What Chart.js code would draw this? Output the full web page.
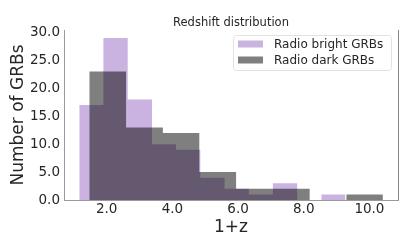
<!DOCTYPE html>
<html>
<head>
<meta charset="utf-8">
<script src="https://cdn.jsdelivr.net/npm/chart.js@4/dist/chart.umd.min.js"></script>
<style>
    html, body { margin: 0; padding: 0; background: #fff; }
    #wrap { width: 407px; height: 251px; }
</style>
</head>
<body>
<div id="wrap"><canvas id="histChart"></canvas></div>
<script>
// Histogram bins (1+z) and counts
const brightEdges = [1.165, 1.90, 2.64, 3.38, 4.11, 4.85, 5.59, 6.33, 7.06, 7.80, 8.54, 9.27];
const brightCounts = [17, 29, 18, 10, 9, 4, 2, 1, 3, 0, 1];
const darkEdges = [1.47, 2.59, 3.71, 4.82, 5.94, 7.06, 8.18, 9.30, 10.41];
const darkCounts = [23, 13, 12, 5, 2, 2, 0, 1];

const xTicks = [2, 4, 6, 8, 10];
const yTicks = [0, 5, 10, 15, 20, 25, 30];
const seriesLabels = ['Radio bright GRBs', 'Radio dark GRBs'];
const chartTitle = 'Redshift distribution';

const brightColor = 'rgba(110, 50, 170, 0.37)';
const darkColor = 'rgba(0, 0, 0, 0.5)';
const FONT = "'DejaVu Sans', sans-serif";

// Step outline of a histogram: first left edge, then each right edge with its bin's count
function stepPoints(edges, counts) {
    const pts = [{ x: edges[0], y: counts[0] }];
    counts.forEach((c, i) => pts.push({ x: edges[i + 1], y: c }));
    return pts;
}

// Title over the axes, right spine and legend box drawn on the canvas
const extrasPlugin = {
    id: 'extras',
    afterDraw(chart) {
        const ctx = chart.ctx;
        const area = chart.chartArea;
        ctx.save();

        ctx.font = '11.5px ' + FONT;
        ctx.fillStyle = '#262626';
        ctx.textAlign = 'center';
        ctx.textBaseline = 'middle';
        ctx.fillText(chartTitle, (area.left + area.right) / 2, 23.5);

        ctx.strokeStyle = '#8a8a8a';
        ctx.lineWidth = 1;
        ctx.beginPath();
        ctx.moveTo(Math.round(area.right) + 0.5, area.top);
        ctx.lineTo(Math.round(area.right) + 0.5, area.bottom);
        ctx.stroke();

        // legend
        const bx = 233.5, by = 35.5, bw = 158, bh = 35;
        ctx.fillStyle = 'rgba(255,255,255,0.8)';
        ctx.strokeStyle = '#e2e2e2';
        ctx.beginPath();
        ctx.roundRect(bx, by, bw, bh, 3);
        ctx.fill();
        ctx.stroke();

        const colors = [brightColor, darkColor];
        ctx.font = '12px ' + FONT;
        ctx.textAlign = 'left';
        seriesLabels.forEach((lab, i) => {
            const cy = 44 + i * 16;
            ctx.fillStyle = colors[i];
            ctx.fillRect(238, cy - 3.5, 25, 7);
            ctx.fillStyle = '#262626';
            ctx.fillText(lab, 274, cy + 0.5);
        });
        ctx.restore();
    }
};

new Chart(document.getElementById('histChart'), {
    type: 'line',
    data: {
        datasets: [
            {
                label: seriesLabels[0],
                data: stepPoints(brightEdges, brightCounts),
                stepped: 'after',
                fill: 'origin',
                backgroundColor: brightColor,
                borderWidth: 0,
                pointRadius: 0,
                order: 2
            },
            {
                label: seriesLabels[1],
                data: stepPoints(darkEdges, darkCounts),
                stepped: 'after',
                fill: 'origin',
                backgroundColor: darkColor,
                borderWidth: 0,
                pointRadius: 0,
                order: 1
            }
        ]
    },
    options: {
        responsive: true,
        maintainAspectRatio: false,
        animation: false,
        layout: { padding: { left: 0, right: 9, top: 30, bottom: 13 } },
        plugins: {
            legend: { display: false },
            tooltip: { enabled: false },
            title: { display: false }
        },
        scales: {
            x: {
                type: 'linear',
                min: 0.70,
                max: 10.87,
                afterBuildTicks: (scale) => { scale.ticks = xTicks.map(v => ({ value: v })); },
                afterFit: (scale) => { scale.height = 38; },
                grid: { display: false, drawTicks: false },
                border: { display: true, color: '#9a9a9a', width: 1 },
                ticks: {
                    padding: 1,
                    color: '#262626',
                    maxRotation: 0,
                    font: { family: FONT, size: 13.5 },
                    callback: (v) => v.toFixed(1)
                },
                title: {
                    display: true,
                    text: '1+z',
                    color: '#262626',
                    font: { family: FONT, size: 17 },
                    padding: { top: 0, bottom: 0 }
                }
            },
            y: {
                min: 0,
                max: 30.45,
                afterBuildTicks: (scale) => { scale.ticks = yTicks.map(v => ({ value: v })); },
                afterFit: (scale) => { scale.width = 64; },
                grid: { display: false, drawTicks: false },
                border: { display: true, color: '#9a9a9a', width: 1 },
                ticks: {
                    padding: 4,
                    color: '#262626',
                    font: { family: FONT, size: 13.5 },
                    callback: (v) => v.toFixed(1)
                },
                title: {
                    display: true,
                    text: 'Number of GRBs',
                    color: '#262626',
                    font: { family: FONT, size: 17 },
                    padding: { top: 8, bottom: 0 }
                }
            }
        }
    },
    plugins: [extrasPlugin]
});
</script>
</body>
</html>
